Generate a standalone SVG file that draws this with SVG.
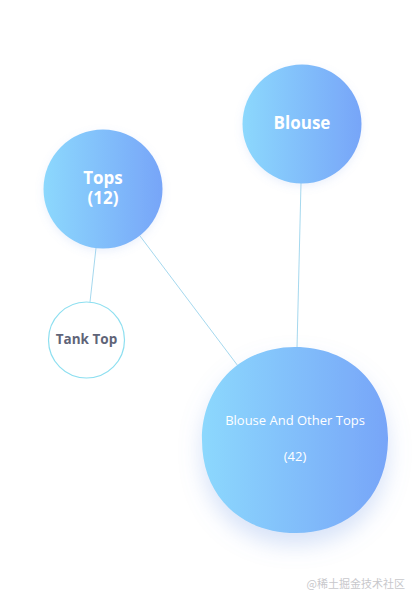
<svg xmlns="http://www.w3.org/2000/svg" width="418" height="606" viewBox="0 0 418 606">
<defs>
<linearGradient id="g" x1="0" y1="0" x2="1" y2="0">
<stop offset="0" stop-color="#8cd8fd"/>
<stop offset="1" stop-color="#77a5f8"/>
</linearGradient>
<filter id="sh" x="-40%" y="-40%" width="180%" height="190%">
<feDropShadow dx="0" dy="12" stdDeviation="11" flood-color="#7aa0e8" flood-opacity="0.3"/>
</filter>
<filter id="sh2" x="-30%" y="-30%" width="160%" height="170%">
<feDropShadow dx="0" dy="3" stdDeviation="4" flood-color="#7aa0e8" flood-opacity="0.15"/>
</filter>
<style>
.edge{stroke:#9bd4ec;stroke-width:0.9;fill:none}
.lbl{font-family:"Open Sans","Noto Sans","DejaVu Sans",sans-serif;text-anchor:middle}
.big{font-weight:bold;font-size:17px;fill:#ffffff}
</style>
</defs>
<rect width="418" height="606" fill="#ffffff"/>
<g id="connectors">
<line class="edge" x1="96" y1="248" x2="90" y2="302"/>
<line class="edge" x1="140" y1="236" x2="238" y2="366"/>
<line class="edge" x1="301" y1="183" x2="297" y2="348"/>
</g>
<g id="tops">
<circle cx="103" cy="189" r="59.5" fill="url(#g)" filter="url(#sh2)"/>
<text class="lbl big" x="103" y="184"><tspan x="103">Tops</tspan><tspan x="103" dy="20">(12)</tspan></text>
</g>
<g id="blouse">
<circle cx="302" cy="124" r="59.5" fill="url(#g)" filter="url(#sh2)"/>
<text class="lbl big" x="302" y="129">Blouse</text>
</g>
<g id="tank-top">
<circle cx="86.5" cy="340" r="38" fill="#ffffff" stroke="#8ddff0" stroke-width="1.2"/>
<text class="lbl" x="86.5" y="344" font-size="13.5" font-weight="bold" fill="#5f6478">Tank Top</text>
</g>
<g id="blouse-and-other-tops">
<path d="M295 347 C350 347 389 385 388 440 C387 498 348 533 296 533 C240 533 202 495 202 440 C202 385 242 347 295 347 Z" fill="url(#g)" filter="url(#sh)"/>
<text class="lbl" x="295" y="424.5" font-size="13" fill="#ffffff">Blouse And Other Tops</text>
<text class="lbl" x="295" y="460.5" font-size="13" fill="#ffffff">(42)</text>
</g>
<text x="405" y="588" font-family="'Noto Sans CJK SC',sans-serif" font-size="11" fill="#c8c8cc" text-anchor="end">@稀土掘金技术社区</text>
</svg>
